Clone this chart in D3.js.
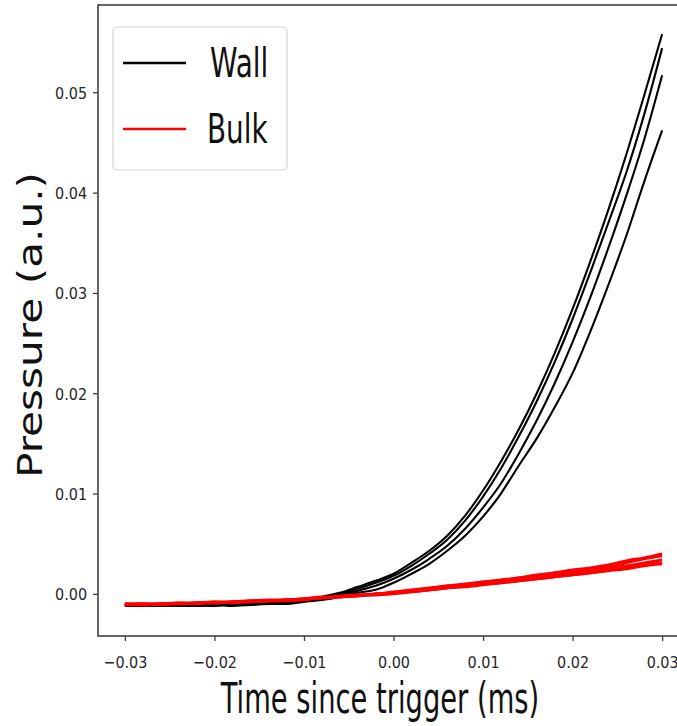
<!DOCTYPE html>
<html>
<head>
<meta charset="utf-8">
<script src="https://cdn.jsdelivr.net/npm/d3@7"></script>
<style>
  html, body { margin: 0; padding: 0; background: #fff; overflow: hidden; }
  svg { display: block; }
</style>
</head>
<body>
<svg id="chart" width="677" height="726"></svg>
<script>
// Sample times (ms relative to trigger)
const timeMs = [-0.030, -0.028, -0.026, -0.024, -0.022, -0.020, -0.018, -0.016, -0.014, -0.012,
                -0.010, -0.008, -0.006, -0.004, -0.002, 0.000, 0.002, 0.004, 0.006, 0.008,
                0.010, 0.012, 0.014, 0.016, 0.018, 0.020, 0.022, 0.024, 0.026, 0.028, 0.030];

// Wall pressure traces (a.u.)
const wallRun1 = [-0.0011, -0.0012, -0.0011, -0.0012, -0.0011, -0.0012, -0.0010, -0.0011, -0.0009, -0.0009,
                  -0.0006, -0.0003, 0.0001, 0.0007, 0.0013, 0.0020, 0.0031, 0.0043, 0.0058, 0.0078,
                  0.0103, 0.0132, 0.0164, 0.0200, 0.0240, 0.0284, 0.0332, 0.0383, 0.0438, 0.0497, 0.0558];
const wallRun2 = [-0.0012, -0.0011, -0.0012, -0.0010, -0.0012, -0.0011, -0.0011, -0.0010, -0.0010, -0.0008,
                  -0.0006, -0.0004, 0.0000, 0.0005, 0.0011, 0.0018, 0.0028, 0.0040, 0.0054, 0.0073,
                  0.0097, 0.0125, 0.0157, 0.0192, 0.0231, 0.0274, 0.0321, 0.0370, 0.0420, 0.0478, 0.0544];
const wallRun3 = [-0.0011, -0.0011, -0.0012, -0.0011, -0.0011, -0.0010, -0.0011, -0.0010, -0.0009, -0.0009,
                  -0.0007, -0.0004, -0.0001, 0.0003, 0.0008, 0.0015, 0.0024, 0.0035, 0.0048, 0.0065,
                  0.0086, 0.0110, 0.0140, 0.0173, 0.0210, 0.0251, 0.0296, 0.0345, 0.0397, 0.0453, 0.0517];
const wallRun4 = [-0.0012, -0.0012, -0.0011, -0.0012, -0.0012, -0.0011, -0.0012, -0.0011, -0.0010, -0.0010,
                  -0.0008, -0.0006, -0.0003, 0.0001, 0.0004, 0.0011, 0.0020, 0.0030, 0.0043, 0.0058,
                  0.0077, 0.0100, 0.0128, 0.0155, 0.0186, 0.0220, 0.0262, 0.0308, 0.0357, 0.0411, 0.0462];

// Bulk pressure traces (a.u.)
const bulkRun1 = [-0.0010, -0.0011, -0.0010, -0.0009, -0.0009, -0.0009, -0.0008, -0.0007, -0.0007, -0.0006,
                  -0.0005, -0.0004, -0.0002, -0.0001, 0.0000, 0.0002, 0.0004, 0.0006, 0.0008, 0.0010,
                  0.0012, 0.0014, 0.0016, 0.0019, 0.0021, 0.0024, 0.0026, 0.0029, 0.0033, 0.0036, 0.0040];
const bulkRun2 = [-0.0011, -0.0010, -0.0010, -0.0010, -0.0009, -0.0008, -0.0008, -0.0008, -0.0007, -0.0006,
                  -0.0005, -0.0004, -0.0003, -0.0002, 0.0000, 0.0001, 0.0003, 0.0005, 0.0008, 0.0009,
                  0.0012, 0.0013, 0.0016, 0.0018, 0.0021, 0.0023, 0.0025, 0.0028, 0.0031, 0.0035, 0.0038];
const bulkRun3 = [-0.0010, -0.0010, -0.0011, -0.0009, -0.0010, -0.0008, -0.0009, -0.0007, -0.0006, -0.0006,
                  -0.0005, -0.0003, -0.0003, -0.0001, -0.0001, 0.0001, 0.0002, 0.0004, 0.0006, 0.0008,
                  0.0010, 0.0012, 0.0014, 0.0016, 0.0019, 0.0021, 0.0023, 0.0026, 0.0028, 0.0031, 0.0034];
const bulkRun4 = [-0.0011, -0.0011, -0.0010, -0.0010, -0.0009, -0.0009, -0.0008, -0.0008, -0.0007, -0.0007,
                  -0.0006, -0.0004, -0.0003, -0.0002, -0.0001, 0.0000, 0.0002, 0.0004, 0.0006, 0.0007,
                  0.0009, 0.0011, 0.0013, 0.0015, 0.0017, 0.0019, 0.0021, 0.0024, 0.0026, 0.0029, 0.0031];
const bulkRun5 = [-0.0010, -0.0010, -0.0010, -0.0010, -0.0009, -0.0009, -0.0008, -0.0007, -0.0007, -0.0006,
                  -0.0005, -0.0004, -0.0003, -0.0002, 0.0000, 0.0001, 0.0003, 0.0004, 0.0006, 0.0008,
                  0.0010, 0.0011, 0.0013, 0.0015, 0.0017, 0.0019, 0.0021, 0.0023, 0.0025, 0.0028, 0.0030];

// Axis ticks
const xTicks = [-0.03, -0.02, -0.01, 0.00, 0.01, 0.02, 0.03];
const xTickLabels = ["\u22120.03", "\u22120.02", "\u22120.01", "0.00", "0.01", "0.02", "0.03"];
const yTicks = [0.00, 0.01, 0.02, 0.03, 0.04, 0.05];
const yTickLabels = ["0.00", "0.01", "0.02", "0.03", "0.04", "0.05"];

// Legend entries
const legendLabels = ["Wall", "Bulk"];
const legendColors = ["#000000", "#ff0000"];

const wallRuns = [wallRun1, wallRun2, wallRun3, wallRun4];
const bulkRuns = [bulkRun1, bulkRun2, bulkRun3, bulkRun4, bulkRun5];

const svg = d3.select("#chart");
const font = "'DejaVu Sans', Verdana, sans-serif";

// Plot frame
const frameLeft = 98, frameRight = 689, frameTop = 5, frameBottom = 636;
const x = d3.scaleLinear().domain([-0.033, 0.033]).range([frameLeft, frameRight]);
const y = d3.scaleLinear().domain([-0.0042, 0.0587]).range([frameBottom, frameTop]);

const line = d3.line()
  .x((d, i) => x(timeMs[i]))
  .y(d => y(d))
  .curve(d3.curveMonotoneX);

const plot = svg.append("g");

// Wall traces first, bulk traces drawn over them
plot.selectAll("path.wall")
  .data(wallRuns)
  .join("path")
  .attr("class", "wall")
  .attr("d", line)
  .attr("fill", "none")
  .attr("stroke", legendColors[0])
  .attr("stroke-width", 2.1)
  .attr("stroke-linejoin", "round");

plot.selectAll("path.bulk")
  .data(bulkRuns)
  .join("path")
  .attr("class", "bulk")
  .attr("d", line)
  .attr("fill", "none")
  .attr("stroke", legendColors[1])
  .attr("stroke-width", 2.8)
  .attr("stroke-linejoin", "round");

// Spines
const spineColor = "#404040";
svg.append("rect")
  .attr("x", frameLeft).attr("y", frameTop)
  .attr("width", frameRight - frameLeft).attr("height", frameBottom - frameTop)
  .attr("fill", "none")
  .attr("stroke", spineColor)
  .attr("stroke-width", 1.6);

// X axis
const xAxisG = svg.append("g")
  .attr("transform", `translate(0,${frameBottom})`)
  .call(d3.axisBottom(x)
    .tickValues(xTicks)
    .tickFormat((d, i) => xTickLabels[i])
    .tickSize(5)
    .tickPadding(15));
xAxisG.select(".domain").remove();
xAxisG.selectAll(".tick line").attr("stroke", spineColor).attr("stroke-width", 1.3);
xAxisG.selectAll(".tick text")
  .attr("fill", "#262626")
  .style("font-family", font)
  .style("font-size", "16.5px")
  .attr("transform", "scale(0.87,1)");

// Y axis
const yAxisG = svg.append("g")
  .attr("transform", `translate(${frameLeft},0)`)
  .call(d3.axisLeft(y)
    .tickValues(yTicks)
    .tickFormat((d, i) => yTickLabels[i])
    .tickSize(5)
    .tickPadding(6));
yAxisG.select(".domain").remove();
yAxisG.selectAll(".tick line").attr("stroke", spineColor).attr("stroke-width", 1.3);
yAxisG.selectAll(".tick text")
  .attr("fill", "#262626")
  .attr("x", -12.6)
  .attr("dy", "0.36em")
  .style("font-family", font)
  .style("font-size", "16.5px")
  .attr("transform", "scale(0.87,1)");

// Axis titles
svg.append("text")
  .attr("transform", "translate(380,713) scale(0.636,1)")
  .attr("text-anchor", "middle")
  .style("font-family", font)
  .style("font-size", "43px")
  .attr("fill", "#111")
  .text("Time since trigger (ms)");

svg.append("text")
  .attr("transform", "translate(42,325) rotate(-90) scale(1.28,1)")
  .attr("text-anchor", "middle")
  .style("font-family", font)
  .style("font-size", "33px")
  .attr("fill", "#111")
  .text("Pressure (a.u.)");

// Legend
const legend = svg.append("g");
legend.append("rect")
  .attr("x", 113).attr("y", 27)
  .attr("width", 174).attr("height", 143)
  .attr("rx", 4)
  .attr("fill", "#fff")
  .attr("fill-opacity", 0.85)
  .attr("stroke", "#d6d6d6")
  .attr("stroke-width", 1.2);

const legendRows = [77, 143];
legendLabels.forEach((label, i) => {
  const base = legendRows[i];
  legend.append("line")
    .attr("x1", 123).attr("x2", 186)
    .attr("y1", base - 14).attr("y2", base - 14)
    .attr("stroke", legendColors[i])
    .attr("stroke-width", 2.4);
  legend.append("text")
    .attr("transform", `translate(${i === 1 ? 207 : 210},${base}) scale(0.68,1)`)
    .style("font-family", font)
    .style("font-size", "41px")
    .attr("fill", "#111")
    .text(label);
});
</script>
</body>
</html>
